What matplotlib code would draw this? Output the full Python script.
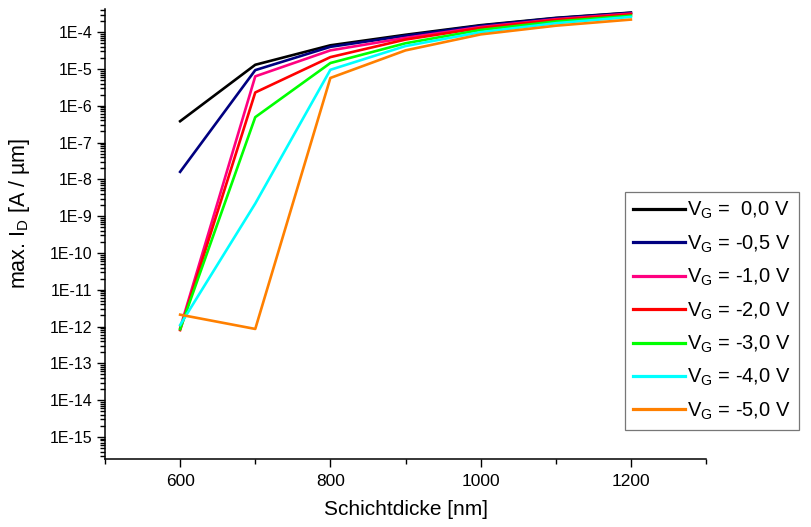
import numpy as np
import matplotlib
matplotlib.use("Agg")
import matplotlib.pyplot as plt
from matplotlib.ticker import FixedLocator, FuncFormatter, LogLocator, NullFormatter

plt.rcParams['font.family'] = ['Liberation Sans', 'DejaVu Sans']
plt.rcParams['mathtext.fontset'] = 'custom'
plt.rcParams['mathtext.rm'] = 'Liberation Sans'

# Schichtdicke [nm]
thickness = [600, 700, 800, 900, 1000, 1100, 1200]

# max. drain current [A/um] per gate voltage
id_0v0 = [3.8e-7, 1.3e-5, 4.4e-5, 8.5e-5, 1.55e-4, 2.45e-4, 3.4e-4]
id_m0v5 = [1.6e-8, 9.3e-6, 4.0e-5, 8.0e-5, 1.5e-4, 2.4e-4, 3.35e-4]
id_m1v0 = [9.0e-13, 6.3e-6, 3.2e-5, 7.0e-5, 1.38e-4, 2.25e-4, 3.2e-4]
id_m2v0 = [8.0e-13, 2.3e-6, 2.1e-5, 6.3e-5, 1.3e-4, 2.15e-4, 3.05e-4]
id_m3v0 = [8.5e-13, 4.9e-7, 1.45e-5, 5.0e-5, 1.15e-4, 1.95e-4, 2.8e-4]
id_m4v0 = [1.1e-12, 2.2e-9, 9.5e-6, 4.2e-5, 1.0e-4, 1.75e-4, 2.6e-4]
id_m5v0 = [2.1e-12, 8.6e-13, 5.7e-6, 3.2e-5, 8.7e-5, 1.5e-4, 2.2e-4]

series = [id_0v0, id_m0v5, id_m1v0, id_m2v0, id_m3v0, id_m4v0, id_m5v0]
labels = [r"$\mathregular{V_G}$ =  0,0 V", r"$\mathregular{V_G}$ = -0,5 V",
          r"$\mathregular{V_G}$ = -1,0 V", r"$\mathregular{V_G}$ = -2,0 V",
          r"$\mathregular{V_G}$ = -3,0 V", r"$\mathregular{V_G}$ = -4,0 V",
          r"$\mathregular{V_G}$ = -5,0 V"]
colors = ["#000000", "#000080", "#FF0080", "#FF0000",
          "#00FF00", "#00FFFF", "#FF8000"]

fig = plt.figure(figsize=(8.11, 5.27), dpi=100)
ax = fig.add_axes([105 / 811, 68 / 527, 601 / 811, 450 / 527])

for vals, lab, col in zip(series, labels, colors):
    ax.plot(thickness, vals, color=col, lw=1.9, label=lab)

ax.set_yscale('log')
ax.set_xlim(500, 1300)
ax.set_ylim(10 ** -15.6, 10 ** -3.37)

ax.xaxis.set_major_locator(FixedLocator([600, 800, 1000, 1200]))
ax.xaxis.set_minor_locator(FixedLocator([500, 700, 900, 1100, 1300]))
ax.yaxis.set_major_locator(FixedLocator([10.0 ** k for k in range(-15, -3)]))
ax.yaxis.set_major_formatter(FuncFormatter(lambda v, p: "1E%d" % round(np.log10(v))))
ax.yaxis.set_minor_locator(LogLocator(base=10, subs=np.arange(2, 10), numticks=40))
ax.yaxis.set_minor_formatter(NullFormatter())

ax.tick_params(which='major', direction='out', length=6, width=1, pad=3)
ax.tick_params(which='minor', direction='out', length=3.5, width=1)
ax.tick_params(axis='y', labelsize=11.5)
ax.tick_params(axis='x', labelsize=12.5, pad=5)

for side in ['top', 'right']:
    ax.spines[side].set_visible(False)
for side in ['left', 'bottom']:
    ax.spines[side].set_linewidth(1.1)

ax.set_xlabel("Schichtdicke [nm]", fontsize=15, labelpad=8)
ax.set_ylabel(r"max. $\mathregular{I_D}$ [A / µm]", fontsize=15.5)
ax.yaxis.set_label_coords(-0.122, 0.545)

leg = ax.legend(loc='upper left', bbox_to_anchor=(625 / 811, 1 - 192 / 527),
                bbox_transform=fig.transFigure, fontsize=14.5, frameon=True,
                fancybox=False, borderpad=0.4, labelspacing=0.6,
                handlelength=2.6, handletextpad=0.1, borderaxespad=0)
leg.get_frame().set_edgecolor('#555555')
leg.get_frame().set_linewidth(0.9)
for line in leg.get_lines():
    line.set_linewidth(2.3)

fig.savefig("out.png", dpi=100)
